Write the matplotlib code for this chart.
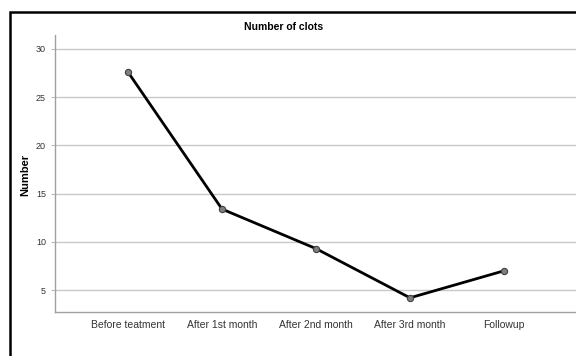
import matplotlib
matplotlib.use("Agg")
import matplotlib.pyplot as plt
from matplotlib.patches import Rectangle

plt.rcParams['font.family'] = ['Liberation Sans', 'DejaVu Sans']

categories = ["Before teatment", "After 1st month", "After 2nd month", "After 3rd month", "Followup"]
clots = [27.6, 13.4, 9.3, 4.2, 7.0]
yticks = [5, 10, 15, 20, 25, 30]

W, H = 576, 356
fig = plt.figure(figsize=(W / 100, H / 100), dpi=100)

# outer frame (runs off the right and bottom edges)
fig.patches.append(Rectangle((10 / W, -0.1), 1.2, 1.1 - 12 / H,
                             transform=fig.transFigure, fill=False,
                             edgecolor="black", linewidth=1.8))

ax = fig.add_axes([55 / W, 44 / H, 522 / W, 277 / H])
x = list(range(len(categories)))
ax.plot(x, clots, color="black", linewidth=2, marker="o", markersize=4.5,
        markerfacecolor="#7f7f7f", markeredgecolor="#404040", markeredgewidth=0.8,
        zorder=3)

ax.set_xlim(-0.777, 4.777)
ax.set_ylim(2.73, 31.45)
ax.set_yticks(yticks)
ax.set_xticks(x)
ax.set_xticklabels(categories, fontsize=7.5, color="#333333")
ax.tick_params(axis="y", labelsize=6.5, labelcolor="#333333", length=3, color="#bbbbbb")
ax.tick_params(axis="x", length=0, pad=6)
ax.grid(axis="y", color="#c8c8c8", linewidth=1)
ax.set_axisbelow(True)
for s in ["top", "right"]:
    ax.spines[s].set_visible(False)
for s in ["left", "bottom"]:
    ax.spines[s].set_color("#a0a0a0")
    ax.spines[s].set_linewidth(1)

ax.set_ylabel("Number", fontsize=8, fontweight="bold")
ax.yaxis.set_label_coords(-0.048, 0.495)
fig.text(284 / W, 1 - 27 / H, "Number of clots", ha="center", va="center",
         fontsize=7.5, fontweight="bold")

fig.savefig("out.png", dpi=100)
